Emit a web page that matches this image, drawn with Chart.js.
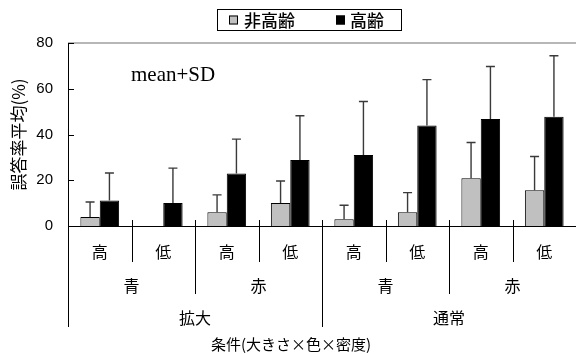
<!DOCTYPE html>
<html>
<head>
<meta charset="utf-8">
<script src="https://cdn.jsdelivr.net/npm/chart.js@4/dist/chart.umd.min.js"></script>
<style>
  html, body { margin: 0; padding: 0; background: #fff; }
  #wrap { width: 576px; height: 354px; }
</style>
</head>
<body>
<div id="wrap"><canvas id="c" width="576" height="354"></canvas></div>
<script>
// Categories: density (inner), colour (middle), size (outer)
const densityLabels = ['高', '低', '高', '低', '高', '低', '高', '低'];
const colorGroups = ['青', '赤', '青', '赤'];
const sizeGroups = ['拡大', '通常'];
const seriesNames = ['非高齢', '高齢'];

// Mean error rate (%) and standard deviation per condition
const nonElderlyMean = [3.9, 0, 6.0, 10.1, 2.9, 6.0, 20.9, 15.6];
const nonElderlySD   = [6.6, 0, 7.6, 9.6, 6.2, 8.6, 15.6, 14.8];
const elderlyMean    = [11.1, 10.1, 23.0, 28.9, 31.0, 43.9, 46.8, 47.8];
const elderlySD      = [12.1, 15.2, 15.0, 19.3, 23.4, 20.1, 22.9, 26.6];

const yTicks = [0, 20, 40, 60, 80];
const yTitle = '誤答率平均(%)';
const xTitle = '条件(大きさ×色×密度)';
const noteText = 'mean+SD';

const CJK = '"Noto Sans CJK JP", sans-serif';
const sdSets = [nonElderlySD, elderlySD];

// Upper error bars, multi-level category axis, legend box and note
const decorations = {
  id: 'decorations',
  afterDatasetsDraw(chart) {
    const ctx = chart.ctx;
    const y = chart.scales.y;
    ctx.save();
    ctx.strokeStyle = '#3a3a3a';
    ctx.lineWidth = 1.4;
    chart.data.datasets.forEach((ds, i) => {
      const meta = chart.getDatasetMeta(i);
      meta.data.forEach((bar, j) => {
        const sd = sdSets[i][j];
        if (!sd) return;
        const top = y.getPixelForValue(ds.data[j] + sd);
        ctx.beginPath();
        ctx.moveTo(bar.x, bar.y);
        ctx.lineTo(bar.x, top);
        ctx.moveTo(bar.x - 4.5, top);
        ctx.lineTo(bar.x + 4.5, top);
        ctx.stroke();
      });
    });
    ctx.restore();
  },
  afterDraw(chart) {
    const ctx = chart.ctx;
    const x = chart.scales.x;
    const y = chart.scales.y;
    const area = chart.chartArea;
    const base = y.getPixelForValue(0);
    ctx.save();

    // plot frame top edge
    ctx.strokeStyle = '#707070';
    ctx.lineWidth = 1.2;
    ctx.beginPath();
    ctx.moveTo(area.left, y.getPixelForValue(80));
    ctx.lineTo(area.right, y.getPixelForValue(80));
    ctx.stroke();

    // inward tick marks on the value axis
    ctx.strokeStyle = '#000';
    ctx.lineWidth = 1;
    yTicks.forEach(v => {
      const py = Math.round(y.getPixelForValue(v)) + 0.5;
      ctx.beginPath();
      ctx.moveTo(area.left, py);
      ctx.lineTo(area.left + 6, py);
      ctx.stroke();
    });

    // category boundaries with nested depth
    const half = (x.getPixelForValue(1) - x.getPixelForValue(0)) / 2;
    const edge = k => x.getPixelForValue(k) - half;
    const rowY = [252, 286, 318];
    const depth = k => (k % 4 === 0 ? 327 : k % 2 === 0 ? 294 : 262);
    for (let k = 0; k <= densityLabels.length; k++) {
      const px = Math.round(edge(k)) + 0.5;
      ctx.beginPath();
      ctx.moveTo(px, base - 6);
      ctx.lineTo(px, depth(k));
      ctx.stroke();
    }

    ctx.fillStyle = '#000';
    ctx.textAlign = 'center';
    ctx.textBaseline = 'middle';
    ctx.font = '16px ' + CJK;
    densityLabels.forEach((t, i) => ctx.fillText(t, x.getPixelForValue(i), rowY[0]));
    colorGroups.forEach((t, i) => ctx.fillText(t, (edge(i * 2) + edge(i * 2 + 2)) / 2, rowY[1]));
    sizeGroups.forEach((t, i) => ctx.fillText(t, (edge(i * 4) + edge(i * 4 + 4)) / 2, rowY[2]));
    ctx.font = '15px ' + CJK;
    ctx.fillText(xTitle, 291, 344);

    // note inside the plot
    ctx.textAlign = 'left';
    ctx.font = '21px "Liberation Serif", serif';
    ctx.fillText(noteText, 131, 75);

    // legend with frame
    ctx.strokeStyle = '#000';
    ctx.lineWidth = 1;
    ctx.strokeRect(217.5, 9.5, 184, 21);
    const items = [{ sx: 229, tx: 244 }, { sx: 336, tx: 350 }];
    ctx.font = '500 17px ' + CJK;
    chart.data.datasets.forEach((ds, i) => {
      const it = items[i];
      ctx.fillStyle = ds.backgroundColor;
      ctx.fillRect(it.sx, 15.5, 9, 9);
      ctx.strokeRect(it.sx + 0.5, 16, 8, 8);
      ctx.fillStyle = '#000';
      ctx.fillText(ds.label, it.tx, 20.5);
    });
    ctx.restore();
  }
};

new Chart(document.getElementById('c'), {
  type: 'bar',
  data: {
    labels: densityLabels,
    datasets: [
      { label: seriesNames[0], data: nonElderlyMean, backgroundColor: '#c0c0c0', borderColor: '#000', borderWidth: 1 },
      { label: seriesNames[1], data: elderlyMean, backgroundColor: '#000000', borderColor: '#000', borderWidth: 1 }
    ]
  },
  options: {
    responsive: false,
    animation: false,
    devicePixelRatio: 1,
    layout: { padding: { top: 43, right: 0, bottom: 128, left: 0 } },
    plugins: { legend: { display: false }, tooltip: { enabled: false } },
    datasets: { bar: { categoryPercentage: 0.61, barPercentage: 1.0 } },
    scales: {
      x: {
        ticks: { display: false },
        grid: { display: false, drawTicks: false },
        border: { display: true, color: '#000', width: 1 }
      },
      y: {
        min: 0,
        max: 80,
        afterBuildTicks: s => { s.ticks = yTicks.map(v => ({ value: v })); },
        afterFit: s => { s.width = 68; },
        ticks: { color: '#000', padding: 15, font: { family: '"Liberation Sans", Arial, sans-serif', size: 15 } },
        grid: { display: false, drawTicks: false },
        border: { display: true, color: '#000', width: 1 },
        title: {
          display: true,
          text: yTitle,
          color: '#000',
          padding: { top: 8, bottom: 0 },
          font: { family: '"Noto Sans CJK JP", sans-serif', size: 17 }
        }
      }
    }
  },
  plugins: [decorations]
});
</script>
</body>
</html>
